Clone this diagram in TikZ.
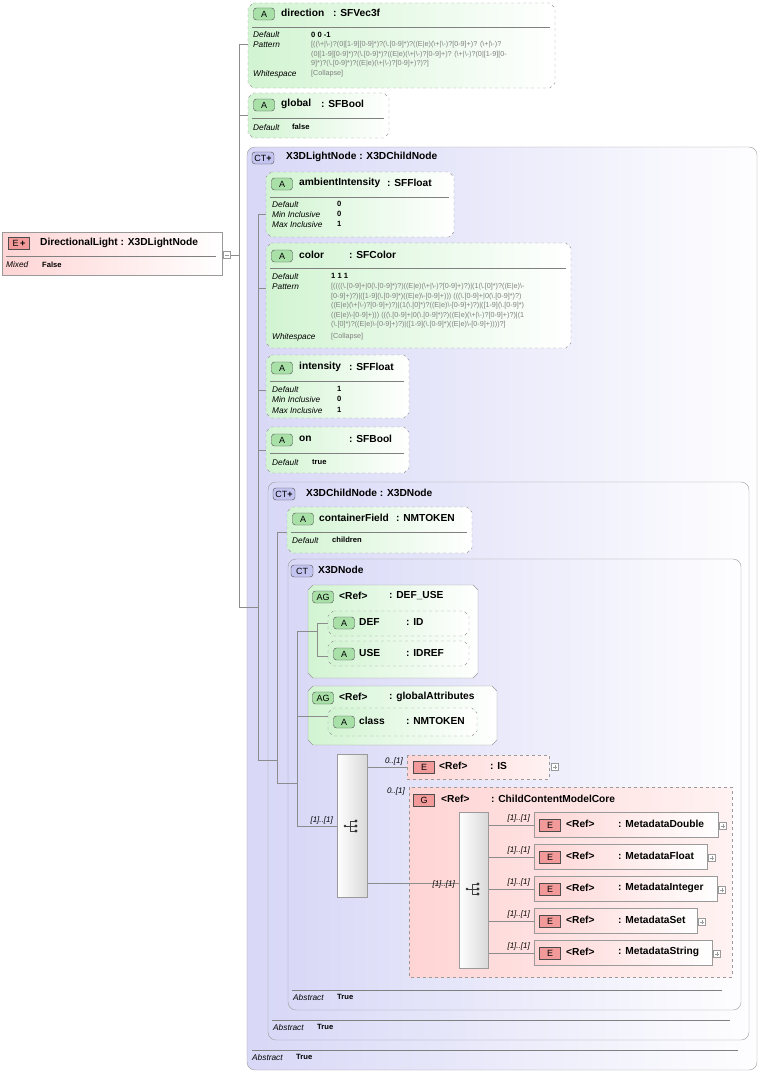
\documentclass[tikz,border=0pt]{standalone}
\usepackage{fontspec}
\setmainfont{Liberation Sans}
\definecolor{gfill}{HTML}{D2F4D2}
\definecolor{pfill}{HTML}{FFD4D4}
\definecolor{cfill}{HTML}{D8D8F7}
\definecolor{bline}{HTML}{9A9A9A}
\definecolor{gbadge}{HTML}{A8E0A8}
\definecolor{pbadge}{HTML}{F29A9A}
\definecolor{cbadge}{HTML}{C4C4F0}
\newcommand\bs{\textbackslash}
\newcommand\chamf[5]{\path[#5] ({#1+5},#2) -- ({#3-5},#2) -- (#3,{#2+5}) -- (#3,{#4-5}) -- ({#3-5},#4) -- ({#1+5},#4) -- (#1,{#4-5}) -- (#1,{#2+5}) -- cycle;}
\newcommand\plusbox[3]{\node[pbox] (#1) at (#2,#3) {}; \draw[bline] ({#2-2.2},#3) -- ({#2+2.2},#3) ({#2},{#3-2.2}) -- ({#2},{#3+2.2});}
\begin{document}
\begin{tikzpicture}[x=1pt,y=-1pt,
  ttl/.style={anchor=west,inner sep=0,font=\bfseries\fontsize{10.2}{12}\selectfont},
  lab/.style={anchor=west,inner sep=0,font=\itshape\fontsize{8.3}{9}\selectfont},
  val/.style={anchor=west,inner sep=0,font=\bfseries\fontsize{7.6}{9}\selectfont},
  pat/.style={anchor=west,inner sep=0,text=gray,font=\fontsize{7.2}{9}\selectfont},
  mult/.style={anchor=east,inner sep=0,font=\itshape\fontsize{8}{9}\selectfont},
  attr/.style={draw=bline,dashed,left color=gfill,right color=white},
  agb/.style={draw=bline,left color=gfill,right color=white},
  ele/.style={draw=bline,left color=pfill,right color=white},
  eleo/.style={draw=bline,dashed,left color=pfill,right color=white!70!pfill},
  ct/.style={draw=bline,rounded corners=8,left color=cfill,right color=white!97!cfill},
  seq/.style={draw=bline,left color=white,right color=gray!30},
  ab/.style={draw=black!70,fill=gbadge,rounded corners=3,minimum width=21,minimum height=12,inner sep=0,font=\fontsize{9}{9}\selectfont},
  eb/.style={draw=black!70,fill=pbadge,minimum width=21,minimum height=12,inner sep=0,font=\fontsize{9}{9}\selectfont},
  cb/.style={draw=black!70,fill=cbadge,rounded corners=3,minimum width=22,minimum height=12,inner sep=0,font=\fontsize{9}{9}\selectfont},
  pbox/.style={draw=bline,fill=white,minimum size=7,inner sep=0},
  sep/.style={draw=gray},
  ln/.style={draw=gray!90}]
\useasboundingbox (0,0) rectangle (762,1073);

% containers
\path[ct] (247,147) rectangle (757,1070);
\path[ct] (268,482) rectangle (749,1040);
\path[ct] (288,559) rectangle (741,1010);
\chamf{308}{585}{478}{678}{agb}
\chamf{308}{686}{497}{745}{agb}
\path[eleo] (409,787) rectangle (732,977);

% connectors
\coordinate (dlm) at (231,255);
\draw[ln] (dlm) -- (239,255);
\draw[ln] (239,44) -- (239,607);
\draw[ln] (239,44) -- (248,44) (239,115) -- (248,115) (239,607) -- (258,607);
\draw[ln] (258,214) -- (258,760);
\draw[ln] (258,214) -- (266,214) (258,288) -- (266,288) (258,390) -- (266,390) (258,450) -- (266,450) (258,760) -- (277,760);
\draw[ln] (277,532) -- (277,783) (277,532) -- (287,532) (277,783) -- (297,783);
\draw[ln] (297,631) -- (297,826) (297,631) -- (317,631) (297,716) -- (328,716) (297,826) -- (337,826);
\draw[ln] (317,623) -- (317,656) (317,623) -- (328,623) (317,656) -- (328,656);
\draw[ln] (367,767) -- (407,767) (367,883) -- (459,883);
\foreach \y in {825,857,889,921,953} \draw[ln] (488,\y) -- (534,\y);

% DirectionalLight
\path[ele] (2,232) rectangle (222,275);
\node[eb] (dlb) at (19,243) {E\,\textbf{+}};
\node[ttl] at (40,243) {DirectionalLight : X3DLightNode};
\draw[sep] (6,256) -- (216,256);
\node[lab] at (6,265) {Mixed}; \node[val] at (42,265) {False};
\node[pbox] (dlminus) at (227,255) {}; \draw[bline] (224.8,255) -- (229.2,255);

% direction
\chamf{248}{3}{555}{88}{attr}
\node[ab] at (264,14) {A};
\node[ttl] at (281,13) {direction}; \node[ttl] at (333,13) {: SFVec3f};
\draw[sep] (252,27) -- (550,27);
\node[lab] at (253,35) {Default}; \node[val] at (311,35) {0 0 -1};
\node[lab] at (253,45) {Pattern};
\node[pat] at (311,45) {[((\bs+|\bs-)?(0|[1-9][0-9]*)?(\bs.[0-9]*)?((E|e)(\bs+|\bs-)?[0-9]+)? (\bs+|\bs-)?};
\node[pat] at (311,54.5) {(0|[1-9][0-9]*)?(\bs.[0-9]*)?((E|e)(\bs+|\bs-)?[0-9]+)? (\bs+|\bs-)?(0|[1-9][0-};
\node[pat] at (311,64) {9]*)?(\bs.[0-9]*)?((E|e)(\bs+|\bs-)?[0-9]+)?)?]};
\node[lab] at (253,74) {Whitespace}; \node[pat] at (311,74) {[Collapse]};

% global
\chamf{248}{93}{389}{138}{attr}
\node[ab] at (264,105) {A};
\node[ttl] at (281,104) {global}; \node[ttl] at (321,104) {: SFBool};
\draw[sep] (252,118) -- (384,118);
\node[lab] at (253,128) {Default}; \node[val] at (292,127) {false};

% X3DLightNode
\node[cb] at (263,158) {CT\textbf{+}};
\node[ttl] at (286,157) {X3DLightNode : X3DChildNode};
\draw[sep] (252,1050) -- (738,1050);
\node[lab] at (252,1058) {Abstract}; \node[val] at (296,1057) {True};

% ambientIntensity
\chamf{266}{172}{454}{237}{attr}
\node[ab] at (282,184) {A};
\node[ttl] at (299,183) {ambientIntensity}; \node[ttl] at (387,183) {: SFFloat};
\draw[sep] (270,197) -- (449,197);
\node[lab] at (272,205) {Default}; \node[val] at (337,204) {0};
\node[lab] at (272,214.5) {Min Inclusive}; \node[val] at (337,213.5) {0};
\node[lab] at (272,225) {Max Inclusive}; \node[val] at (337,224) {1};

% color
\chamf{266}{243}{571}{348}{attr}
\node[ab] at (282,256) {A};
\node[ttl] at (299,255) {color}; \node[ttl] at (349,255) {: SFColor};
\draw[sep] (270,268) -- (566,268);
\node[lab] at (272,277) {Default}; \node[val] at (331,276) {1 1 1};
\node[lab] at (272,287) {Pattern};
\node[pat] at (331,287) {[((((\bs.[0-9]+|0(\bs.[0-9]*)?)((E|e)(\bs+|\bs-)?[0-9]+)?)|(1(\bs.[0]*)?((E|e)\bs-};
\node[pat] at (331,296.5) {[0-9]+)?)|([1-9](\bs.[0-9]*)((E|e)\bs-[0-9]+))) (((\bs.[0-9]+|0(\bs.[0-9]*)?)};
\node[pat] at (331,306) {((E|e)(\bs+|\bs-)?[0-9]+)?)|(1(\bs.[0]*)?((E|e)\bs-[0-9]+)?)|([1-9](\bs.[0-9]*)};
\node[pat] at (331,315.5) {((E|e)\bs-[0-9]+))) (((\bs.[0-9]+|0(\bs.[0-9]*)?)((E|e)(\bs+|\bs-)?[0-9]+)?)|(1};
\node[pat] at (331,325) {(\bs.[0]*)?((E|e)\bs-[0-9]+)?)|([1-9](\bs.[0-9]*)((E|e)\bs-[0-9]+))))?]};
\node[lab] at (272,337) {Whitespace}; \node[pat] at (331,337) {[Collapse]};

% intensity
\chamf{266}{355}{409}{418}{attr}
\node[ab] at (282,368) {A};
\node[ttl] at (299,367) {intensity}; \node[ttl] at (349,367) {: SFFloat};
\draw[sep] (270,381) -- (404,381);
\node[lab] at (272,390) {Default}; \node[val] at (337,389) {1};
\node[lab] at (272,400) {Min Inclusive}; \node[val] at (337,399) {0};
\node[lab] at (272,411) {Max Inclusive}; \node[val] at (337,410) {1};

% on
\chamf{266}{427}{409}{473}{attr}
\node[ab] at (282,440) {A};
\node[ttl] at (299,439) {on}; \node[ttl] at (349,439) {: SFBool};
\draw[sep] (270,453) -- (404,453);
\node[lab] at (272,463) {Default}; \node[val] at (312,462) {true};

% X3DChildNode
\node[cb] at (284,494) {CT\textbf{+}};
\node[ttl] at (306,493) {X3DChildNode : X3DNode};
\draw[sep] (272,1020) -- (730,1020);
\node[lab] at (273,1028) {Abstract}; \node[val] at (317,1027) {True};

% containerField
\chamf{287}{507}{472}{553}{attr}
\node[ab] at (303,519) {A};
\node[ttl] at (319,518) {containerField}; \node[ttl] at (396,518) {: NMTOKEN};
\draw[sep] (291,532) -- (467,532);
\node[lab] at (292,541) {Default}; \node[val] at (332,540) {children};

% X3DNode
\node[cb] at (302,571) {CT};
\node[ttl] at (318,570) {X3DNode};
\draw[sep] (292,990) -- (722,990);
\node[lab] at (293,998) {Abstract}; \node[val] at (337,997) {True};

% AG DEF_USE
\node[ab] at (323,597) {AG};
\node[ttl] at (339,596) {<Ref>}; \node[ttl] at (389,596) {: DEF\_USE};
\chamf{328}{611}{469}{636}{attr}
\node[ab] at (344,623) {A};
\node[ttl] at (359,622) {DEF}; \node[ttl] at (406,622) {: ID};
\chamf{328}{641}{469}{666}{attr}
\node[ab] at (344,654) {A};
\node[ttl] at (359,653) {USE}; \node[ttl] at (406,653) {: IDREF};

% AG globalAttributes
\node[ab] at (323,698) {AG};
\node[ttl] at (339,697) {<Ref>}; \node[ttl] at (389,697) {: globalAttributes};
\chamf{328}{708}{477}{736}{attr}
\node[ab] at (344,722) {A};
\node[ttl] at (359,721) {class}; \node[ttl] at (406,721) {: NMTOKEN};

% sequence 1
\path[seq] (337,754) rectangle (367,897);
\draw[black!75,line width=0.7] (345,826) -- (350,826) (350,821) -- (350,831) (350,821) -- (355,821) (350,826) -- (355,826) (350,831) -- (355,831);
\fill[black!80] (345,826) circle (1.4) (356,821) circle (1.7) (356,826) circle (1.7) (356,831) circle (1.7);
\node[mult] at (333,820) {[1]..[1]};

% IS
\path[eleo] (407,755) rectangle (549,779);
\node[eb] at (424,767) {E};
\node[ttl] at (439,766) {<Ref>}; \node[ttl] at (490,766) {: IS};
\node[mult] at (403,761) {0..[1]};
\plusbox{isp}{555}{767}

% G
\node[eb] at (424,800) {G};
\node[ttl] at (441,799) {<Ref>}; \node[ttl] at (491,799) {: ChildContentModelCore};
\node[mult] at (405,791) {0..[1]};
\node[mult] at (455,884) {[1]..[1]};

% sequence 2
\path[seq] (459,812) rectangle (488,968);
\draw[black!75,line width=0.7] (467,889) -- (472,889) (472,884) -- (472,894) (472,884) -- (477,884) (472,889) -- (477,889) (472,894) -- (477,894);
\fill[black!80] (467,889) circle (1.4) (478,884) circle (1.7) (478,889) circle (1.7) (478,894) circle (1.7);

% metadata elements
\foreach \y/\r/\n in {812/718/MetadataDouble,844/707/MetadataFloat,876/717/MetadataInteger,908/697/MetadataSet,940/712/MetadataString}{
  \path[ele] (534,\y) rectangle (\r,\y+25);
  \node[eb] at (550,\y+13) {E};
  \node[ttl] at (566,\y+12) {<Ref>};
  \node[ttl] at (618,\y+12) {: \n};
  \node[mult] at (530,\y+6) {[1]..[1]};
  \node[pbox] at (\r+5,\y+14) {};
  \draw[bline] (\r+2.8,\y+14) -- (\r+7.2,\y+14) (\r+5,\y+11.8) -- (\r+5,\y+16.2);
}
\end{tikzpicture}
\end{document}
